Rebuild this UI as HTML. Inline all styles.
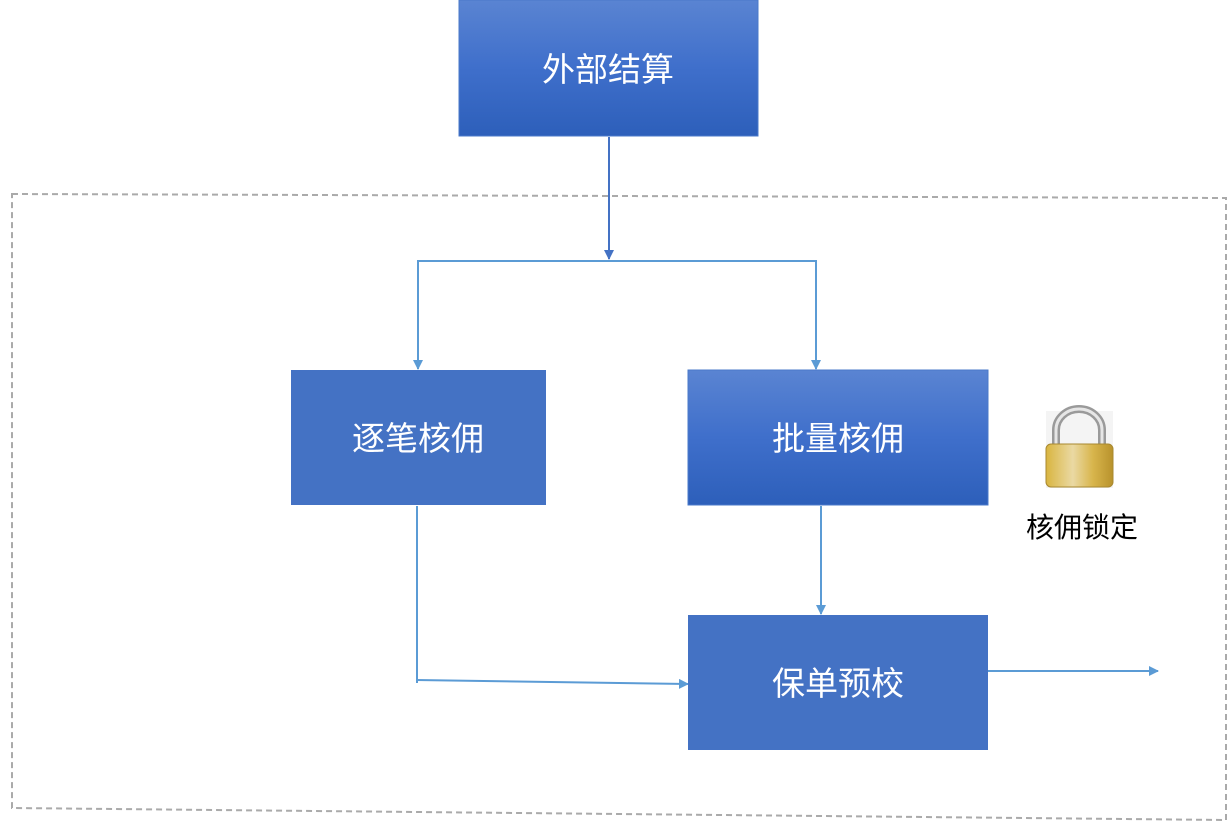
<!DOCTYPE html>
<html><head><meta charset="utf-8"><style>
html,body{margin:0;padding:0;background:#fff;width:1229px;height:825px;overflow:hidden}
svg{display:block}
text{font-family:"Liberation Sans","Noto Sans CJK SC",sans-serif}
</style></head><body>
<svg width="1229" height="825" viewBox="0 0 1229 825">
<defs>
<linearGradient id="g" x1="0" y1="0" x2="0" y2="1">
<stop offset="0" stop-color="#5a84d2"/><stop offset="0.5" stop-color="#3f6fcb"/><stop offset="1" stop-color="#2d5fba"/>
</linearGradient>
<linearGradient id="gold" x1="0" y1="0" x2="1" y2="0">
<stop offset="0" stop-color="#d9b540"/><stop offset="0.4" stop-color="#ead9a3"/><stop offset="0.7" stop-color="#d8b54c"/><stop offset="1" stop-color="#b8922c"/>
</linearGradient>
<marker id="a" markerWidth="10" markerHeight="10" refX="9" refY="5" orient="auto" markerUnits="userSpaceOnUse">
<path d="M0,0 L10,5 L0,10 z" fill="#5b9bd5"/></marker>
<marker id="b" markerWidth="10" markerHeight="10" refX="9" refY="5" orient="auto" markerUnits="userSpaceOnUse">
<path d="M0,0 L10,5 L0,10 z" fill="#4472c4"/></marker>
</defs>
<polygon points="12,194 1226,198 1226,820 12,808" fill="none" stroke="#aaa" stroke-width="2" stroke-dasharray="6,4"/>
<rect x="459" y="0" width="299" height="136" fill="url(#g)" stroke="#4a79c9"/>
<text x="608" y="81" fill="#fff" font-size="33" text-anchor="middle">外部结算</text>
<line x1="609" y1="137" x2="609" y2="259" stroke="#4472c4" stroke-width="2" marker-end="url(#b)"/>
<polyline points="418,368 418,261 816,261 816,368" fill="none" stroke="#5b9bd5" stroke-width="2"/>
<line x1="418" y1="350" x2="418" y2="369" stroke="#5b9bd5" stroke-width="2" marker-end="url(#a)"/>
<line x1="816" y1="350" x2="816" y2="369" stroke="#5b9bd5" stroke-width="2" marker-end="url(#a)"/>
<rect x="291" y="370" width="255" height="135" fill="#4472c4"/>
<text x="418" y="450" fill="#fff" font-size="33" text-anchor="middle">逐笔核佣</text>
<rect x="688" y="370" width="300" height="135" fill="url(#g)" stroke="#4a79c9"/>
<text x="838" y="450" fill="#fff" font-size="33" text-anchor="middle">批量核佣</text>
<line x1="821" y1="506" x2="821" y2="614" stroke="#5b9bd5" stroke-width="2" marker-end="url(#a)"/>
<polyline points="417,506 417,683" fill="none" stroke="#5b9bd5" stroke-width="2"/>
<line x1="416" y1="680" x2="688" y2="684" stroke="#5b9bd5" stroke-width="2" marker-end="url(#a)"/>
<rect x="688" y="615" width="300" height="135" fill="#4472c4"/>
<text x="838" y="695" fill="#fff" font-size="33" text-anchor="middle">保单预校</text>
<line x1="988" y1="671" x2="1158" y2="671" stroke="#5b9bd5" stroke-width="2" marker-end="url(#a)"/>
<rect x="1046" y="411" width="67" height="77" fill="#f4f4f4"/>
<path d="M1056,446 V430 a23,21 0 0 1 46,0 V446" fill="none" stroke="#9a9a9a" stroke-width="8"/>
<path d="M1056,446 V430 a23,21 0 0 1 46,0 V446" fill="none" stroke="#e6e6e6" stroke-width="3"/>
<rect x="1046" y="444" width="67" height="43" rx="5" fill="url(#gold)" stroke="#a88830"/>
<text x="1082" y="537" fill="#000" font-size="28" text-anchor="middle">核佣锁定</text>
</svg>
</body></html>
